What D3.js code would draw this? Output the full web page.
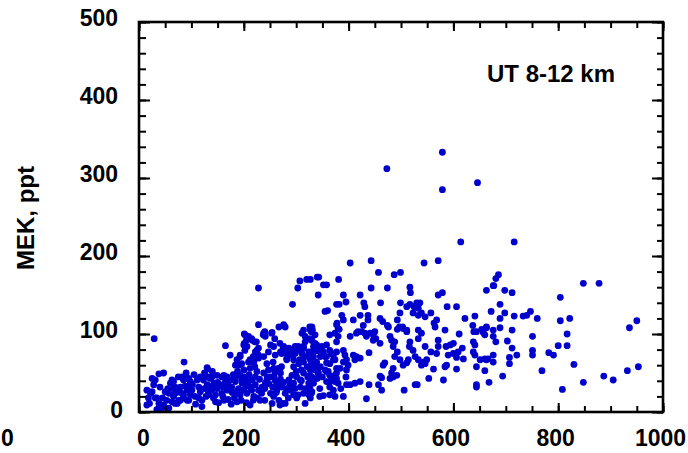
<!DOCTYPE html>
<html>
<head>
<meta charset="utf-8">
<script src="https://cdn.jsdelivr.net/npm/d3@7"></script>
<style>
  body { margin: 0; background: #fff; }
  svg text { font-family: "Liberation Sans", Arial, sans-serif; font-weight: bold; }
</style>
</head>
<body>
<svg id="chart" width="688" height="453"></svg>
<script>
// axis ticks
const xMajor = [0, 200, 400, 600, 800, 1000];
const xMinor = d3.range(0, 1001, 50);
const yMajor = [0, 100, 200, 300, 400, 500];
const yMinor = d3.range(0, 501, 20);

const yTitle = 'MEK, ppt';
const panelLabel = 'UT 8-12 km';

// [x, MEK ppt]
const points = [
  [473,312],[403,191],[443,194],[457,179],[487,176],[499,179],[307,168],[320,170],[327,170],[340,173],
  [343,173],[352,163],[358,163],[381,170],[579,333],[579,285],[646,294],[614,218],[716,218],[544,191],
  [571,194],[686,176],[681,171],[677,162],[848,165],[878,165],
  [804,147],[663,156],[676,162],[698,156],[712,153],[689,138],[672,129],[698,127],[689,120],[716,123],
  [733,123],[740,124],[747,129],[760,120],[804,117],[822,120],[950,117],[936,108],[663,108],[676,105],
  [689,108],[712,105],[660,99],[676,97],[681,90],[703,91],[712,82],[751,97],[817,100],[800,85],
  [817,85],[751,79],[751,73],[782,76],[791,73],[721,73],[707,70],[707,62],[660,68],[666,68],
  [676,73],[676,64],[660,53],[668,38],[694,46],[769,53],[830,61],[808,29],[848,38],[887,46],
  [905,41],[932,53],[953,58],
  [342,150],[443,159],[474,159],[517,160],[518,153],[571,150],[579,153],[390,150],[422,150],
  [377,138],[382,138],[395,141],[429,140],[431,135],[461,140],[499,140],[511,135],[517,138],[525,135],
  [530,140],[536,140],[533,133],[588,135],[606,135],
  [355,129],[360,130],[387,124],[390,118],[409,118],[422,124],[437,124],[437,118],[428,111],[460,120],
  [465,116],[474,111],[498,127],[493,118],[503,109],[511,105],[523,127],[533,124],[539,127],[546,122],
  [557,127],[563,114],[568,118],[565,109],[584,105],[622,120],[641,123],[637,111],[639,103],[644,103],
  [654,106],[657,102],[663,109],
  [326,109],[331,105],[336,99],[329,92],[339,86],[333,79],[342,79],[346,71],[339,64],[346,58],
  [336,54],[342,50],[358,86],[364,79],[371,73],[374,67],[355,71],[358,63],
  [364,99],[374,101],[380,97],[377,90],[382,106],[378,114],
  [390,79],[393,73],[390,64],[396,67],[399,60],[396,54],[384,56],[377,50],
  [409,73],[415,71],[422,69],[412,67],[403,97],
  [415,101],[418,103],[425,103],[431,101],[434,97],[441,101],[447,99],[450,103],[447,92],[452,94],[460,88],
  [439,76],[466,60],[469,63],[460,46],[463,44],[479,43],[485,45],[492,47],
  [479,97],[482,92],[488,90],[485,84],[493,77],[488,71],[498,67],[504,60],[511,63],[514,67],
  [476,109],[493,106],[497,109],[504,107],[511,103],
  [517,90],[516,84],[523,79],[527,71],[533,67],[539,60],[542,64],
  [533,105],[539,101],[533,94],[546,84],[557,77],[568,75],[571,92],[571,84],[549,67],[546,62],
  [562,55],[553,43],[581,41],[584,58],[587,60],[586,84],[594,86],[600,88],[590,73],[600,75],
  [609,77],[617,82],[606,70],[619,68],[611,100],[606,55],[638,90],[641,86],[638,77],[641,73],
  [651,67],[663,67],[644,35],[644,32],[644,58],
  [326,47],[333,41],[326,32],[329,24],[352,21],[374,20],[390,20],[358,39],[364,39],[374,39],
  [380,37],[364,32],[371,28],[377,43],[374,47],[396,35],[403,35],[412,37],[422,39],[439,35],
  [457,35],[463,28],[434,17],[506,28],[527,35],[531,35],[326,75],[333,71],[329,62],[355,54],
  [361,52],[485,56],[482,50],
  [228,159],[303,159],[293,138],[29,94],[86,64],[165,85],[228,112],[267,109],[276,112],[279,109],
  [201,100],[209,97],[216,92],[224,90],[238,101],[241,97],[254,102],[201,88],[206,84],[228,82],
  [222,77],[174,73],[187,67],[212,67],[219,64],[228,69],[238,71],[244,62],[130,57],[131,55],
  [25,43],[38,49],[47,50],[31,41],[15,28],[22,24],[20,11],[31,18],[38,11],[44,5],
  [47,9],[57,24],[66,30],[66,20],[73,11],[60,37],[63,41],[79,32],[85,41],[82,45],
  [95,43],[98,37],[92,28],[98,22],[95,15],[111,41],[114,32],[117,26],[123,41],[130,35],
  [136,43],[143,37],[139,28],[133,22],[146,22],[120,15],[117,45],[126,47],[133,45],[149,47],
  [158,45],[165,39],[155,35],[149,30],[158,24],[168,28],[177,32],[184,39],[174,41],[184,45],
  [193,47],[187,26],[193,22],[200,28],[206,24],[212,32],[216,41],[222,45],[203,41],[197,37],
  [219,20],[228,28],[235,32],[241,37],[244,41],[251,45],[238,50],[247,54],[257,56],[263,52],
  [270,50],[251,24],[257,20],[267,15],[273,11],[263,28],[273,32],[279,24],[286,41],[292,47],
  [301,45],[308,41],[314,50],[295,58],[305,62],[314,64],[321,58],[327,54],[330,45],[324,37],
  [333,37],[340,43],[336,62],[327,67],[289,28],[295,22],[301,18],[314,24],[324,22],[330,26],
  [317,11],[327,18],[308,32],[295,37],[270,77],[276,84],[286,82],[292,73],[282,69],[298,75],
  [308,79],[314,84],[317,90],[327,94],[336,88],[311,101],[314,105],[317,97],[327,105],[330,109],
  [333,84],[340,79],[324,77],[257,84],[260,73],[247,77],[251,86],[15,9],[34,3],[57,5],
  [76,15],[85,22],[120,7],[146,13],[162,15],[187,13],[212,9],[231,15],[254,11],[279,11],
  [200,86],[193,73],[184,60],[190,60],[200,54],[139,45],[162,47],[66,39],[69,32],[92,43],
  [98,39],[92,32],[25,26],[34,18],[38,5],[50,26],[53,15],[63,13],[69,11],[66,22],
  [76,28],[82,24],[85,18],[79,15],[92,15],[101,28],[107,20],[114,18],
  [329,103],[377,112],[380,107],[202,99],[205,92],[215,94],[221,90],[237,99],[240,103],[253,101],
  [259,94],[202,79],[225,79],[218,71],[228,73],[269,88],[275,82],[272,75],[282,75],[288,77],
  [295,79],[298,84],[304,84],[314,82],[311,75],[317,71],[307,67],[295,67],[282,67],[330,92],
  [336,86],[339,79],[349,84],[352,77],[358,71],[368,75],[377,77],[371,67],[364,62],[193,71],
  [196,62],[209,64],[212,56],[218,64],[221,58],[256,64],[259,52],[266,56],[272,58],[310,54],
  [326,58],[342,50],[358,52],[364,47],[377,56],[218,15],[240,15],[269,9],[304,22],[326,26],
  [345,20],[364,22],
  [125,30],[132,27],[140,33],[150,38],[160,32],[170,36],[178,25],[182,18],[190,30],[196,42],
  [204,33],[210,40],[215,28],[222,35],[230,42],[234,24],[240,30],[245,45],[248,36],[255,32],
  [260,40],[265,35],[270,42],[276,38],[282,30],[288,35],[160,20],[170,16],[176,10],[195,15],
  [205,12],[226,18],[152,12],[142,18],[128,20],[108,10],[102,35],[88,33],[72,25],[45,18],
  [40,32],[28,35],[18,18],[55,30],[180,48],[210,48],[225,52],[200,45],[188,52],[168,45],
  [140,52],[125,50],[105,48],[90,50],[75,45],[258,45],[262,25],[285,18],[298,30],[310,40],
  [318,30],[300,52],[322,45],[345,30],[350,45],[368,42],[385,30],[395,45]
];

const svg = d3.select('#chart');
const plotLeft = 139, plotRight = 663, plotTop = 22, plotBottom = 412;

const x = d3.scaleLinear().domain([0, 1000]).range([plotLeft, plotRight]);
const y = d3.scaleLinear().domain([0, 500]).range([plotBottom, plotTop]);

// points first, frame on top
svg.append('g')
  .selectAll('circle')
  .data(points)
  .enter()
  .append('circle')
  .attr('cx', d => x(d[0]))
  .attr('cy', d => y(d[1]))
  .attr('r', 3.4)
  .attr('fill', '#0000cd');

// minor ticks (inward, all four sides)
svg.append('g').attr('transform', `translate(0,${plotBottom})`)
  .call(d3.axisBottom(x).tickValues(xMinor).tickSize(-6).tickFormat(''));
svg.append('g').attr('transform', `translate(0,${plotTop})`)
  .call(d3.axisTop(x).tickValues(xMinor).tickSize(-6).tickFormat(''));
svg.append('g').attr('transform', `translate(${plotLeft},0)`)
  .call(d3.axisLeft(y).tickValues(yMinor).tickSize(-7).tickFormat(''));
svg.append('g').attr('transform', `translate(${plotRight},0)`)
  .call(d3.axisRight(y).tickValues(yMinor).tickSize(-6).tickFormat(''));

// major ticks with labels
const xAxis = svg.append('g').attr('transform', `translate(0,${plotBottom})`)
  .call(d3.axisBottom(x).tickValues(xMajor).tickSize(-9).tickPadding(18).tickFormat(d3.format('d')));
const yAxis = svg.append('g').attr('transform', `translate(${plotLeft},0)`)
  .call(d3.axisLeft(y).tickValues(yMajor).tickSize(-11).tickPadding(21).tickFormat(d3.format('d')));
svg.append('g').attr('transform', `translate(${plotRight},0)`)
  .call(d3.axisRight(y).tickValues(yMajor).tickSize(-11).tickFormat(''));
svg.append('g').attr('transform', `translate(0,${plotTop})`)
  .call(d3.axisTop(x).tickValues(xMajor).tickSize(-9).tickFormat(''));

svg.selectAll('.domain').remove();
svg.selectAll('.tick line').attr('stroke', '#000').attr('stroke-width', 2);

xAxis.selectAll('text')
  .attr('font-size', 23).attr('fill', '#000')
  .attr('dx', d => d === 0 ? 4 : -3);
yAxis.selectAll('text')
  .attr('font-size', 23).attr('fill', '#000')
  .attr('y', d => d === 0 ? -2 : -4)
  .attr('dx', d => d === 0 ? 5 : 0);

// frame
svg.append('rect')
  .attr('x', plotLeft).attr('y', plotTop)
  .attr('width', plotRight - plotLeft).attr('height', plotBottom - plotTop)
  .attr('fill', 'none').attr('stroke', '#000').attr('stroke-width', 2.6);

// stray zero at the far left of the x labels
svg.append('text')
  .attr('x', 7.5).attr('y', 446)
  .attr('text-anchor', 'middle')
  .attr('font-size', 23)
  .text('0');

svg.append('text')
  .attr('transform', 'translate(34,218) rotate(-90)')
  .attr('text-anchor', 'middle')
  .attr('font-size', 24)
  .text(yTitle);

svg.append('text')
  .attr('x', 487).attr('y', 82)
  .attr('font-size', 24)
  .text(panelLabel);
</script>
</body>
</html>
